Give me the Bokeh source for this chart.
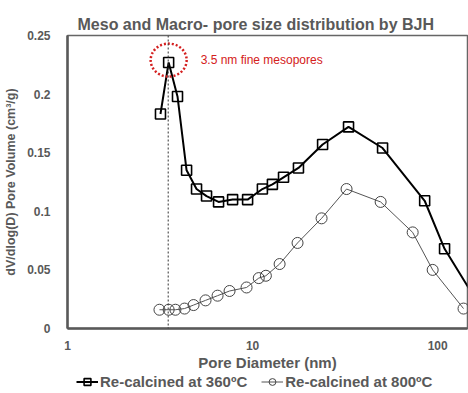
from bokeh.plotting import figure
from bokeh.layouts import column
from bokeh.models import (FixedTicker, Span, Legend, LegendItem, Label, Title)
from bokeh.embed import file_html
from bokeh.resources import INLINE

# ---- data ----
d360 = [3.18, 3.52, 3.93, 4.40, 4.98, 5.64, 6.55, 7.80, 9.40, 11.3, 12.8, 14.7,
        17.7, 23.9, 33.0, 50.4, 85.1, 109.0, 174.0]
v360 = [0.183, 0.227, 0.198, 0.135, 0.119, 0.113, 0.108, 0.110, 0.110, 0.119,
        0.123, 0.129, 0.137, 0.157, 0.172, 0.154, 0.109, 0.068, 0.016]

d800 = [3.14, 3.52, 3.83, 4.29, 4.80, 5.57, 6.47, 7.51, 9.28, 10.8, 11.8, 14.0,
        17.5, 23.6, 32.2, 49.2, 73.3, 94.0, 138.0]
v800 = [0.016, 0.016, 0.016, 0.017, 0.020, 0.024, 0.028, 0.032, 0.035, 0.043,
        0.045, 0.055, 0.073, 0.094, 0.119, 0.108, 0.082, 0.050, 0.017]

xticks = [1, 10, 100]
xtick_labels = ["1", "10", "100"]
yticks = [0, 0.05, 0.1, 0.15, 0.2, 0.25]
ytick_labels = ["0", "0.05", "0.1", "0.15", "0.2", "0.25"]

marker_line_x = 3.5
annot_text = "3.5 nm fine mesopores"
title_text = "Meso and Macro- pore size distribution by BJH"
xlabel = "Pore Diameter (nm)"
ylabel = "dV/dlog(D) Pore Volume (cm³/g)"
series_names = ["Re-calcined at 360ºC", "Re-calcined at 800ºC"]

FONT = "Liberation Sans"
GRAY = "#595959"

S360 = dict(line_color="black", line_width=2)
M360 = dict(marker="square", size=10, fill_color=None, line_color="black", line_width=1.6)
S800 = dict(line_color="#555555", line_width=1)
M800 = dict(marker="circle", size=11, fill_color=None, line_color="#444444", line_width=1)

p = figure(width=468, height=373, x_axis_type="log", x_range=(1, 145),
           y_range=(0, 0.25), output_backend="svg", toolbar_location=None,
           min_border_left=67, min_border_right=1, min_border_top=35,
           min_border_bottom=45)
p.title = Title(text=title_text, align="left", offset=10, text_font=FONT,
                text_font_size="16px", text_font_style="bold", text_color=GRAY,
                standoff=6)

p.xgrid.visible = False
p.ygrid.visible = False
p.outline_line_color = "#666666"
p.outline_line_width = 1.5
p.background_fill_color = "white"
p.border_fill_color = "white"

for ax in (p.xaxis[0], p.yaxis[0]):
    ax.major_tick_line_color = None
    ax.minor_tick_line_color = None
    ax.axis_line_color = GRAY
    ax.axis_line_width = 2.5
    ax.major_label_text_font = FONT
    ax.major_label_text_font_size = "12px"
    ax.major_label_text_font_style = "bold"
    ax.major_label_text_color = GRAY
    ax.axis_label_text_font = FONT
    ax.axis_label_text_font_style = "bold"
    ax.axis_label_text_color = GRAY

p.xaxis.ticker = FixedTicker(ticks=xticks, minor_ticks=[])
p.xaxis.major_label_overrides = {t: l for t, l in zip(xticks, xtick_labels)}
p.xaxis.axis_label = xlabel
p.xaxis.axis_label_text_font_size = "15px"
p.xaxis.major_label_standoff = 6
p.xaxis.axis_label_standoff = 1

p.yaxis.ticker = FixedTicker(ticks=yticks, minor_ticks=[])
p.yaxis.major_label_overrides = {t: l for t, l in zip(yticks, ytick_labels)}
p.yaxis.axis_label = ylabel
p.yaxis.axis_label_text_font_size = "12.5px"
p.yaxis.major_label_standoff = 11
p.yaxis.axis_label_standoff = 6

# vertical dotted line at 3.5 nm
p.add_layout(Span(location=marker_line_x, dimension="height", line_color="#333333",
                  line_width=1, line_dash="2 2"))

# series
p.line(d360, v360, **S360)
p.scatter(d360, v360, **M360)
p.line(d800, v800, **S800)
p.scatter(d800, v800, **M800)

# annotation around the peak
imax = max(range(len(v360)), key=lambda i: v360[i])
px, py = d360[imax], v360[imax]
p.ellipse([px], [py + 0.002], width=36, height=33, width_units="screen",
          height_units="screen", fill_color=None, line_color="#d42020",
          line_width=2.5, line_dash="2 2")
p.add_layout(Label(x=px, y=py + 0.002, x_offset=32, text=annot_text,
                   text_font=FONT, text_font_size="12px", text_color="#d42020",
                   text_baseline="middle"))

# legend strip below the chart (same series, drawn out of view, used as legend proxies)
lg = figure(width=468, height=20, output_backend="svg", toolbar_location=None,
            min_border=0, x_axis_type="log", x_range=(1, 145), y_range=(1, 2))
lg.axis.visible = False
lg.grid.visible = False
lg.outline_line_color = None
lg.border_fill_color = "white"
a1 = lg.line(d360, v360, **S360)
b1 = lg.scatter(d360, v360, **M360)
a2 = lg.line(d800, v800, **S800)
b2 = lg.scatter(d800, v800, **M800)

aligned_off = False
if "frame_align" in lg.properties():
    lg.frame_align = False
    aligned_off = True

legend = Legend(items=[LegendItem(label=series_names[0], renderers=[a1, b1]),
                       LegendItem(label=series_names[1], renderers=[a2, b2])],
                orientation="horizontal",
                location=(76, 3) if aligned_off else (0, 3),
                label_text_font=FONT,
                label_text_font_size="15px" if aligned_off else "14px",
                label_text_font_style="bold", label_text_color=GRAY,
                border_line_color=None, background_fill_alpha=0,
                glyph_width=22, label_standoff=2,
                spacing=14 if aligned_off else 10,
                label_height=17, glyph_height=17,
                padding=0, margin=0)
lg.add_layout(legend, "center")

layout = column(p, lg, spacing=0)
open("out.html", "w").write(file_html(layout, INLINE))
